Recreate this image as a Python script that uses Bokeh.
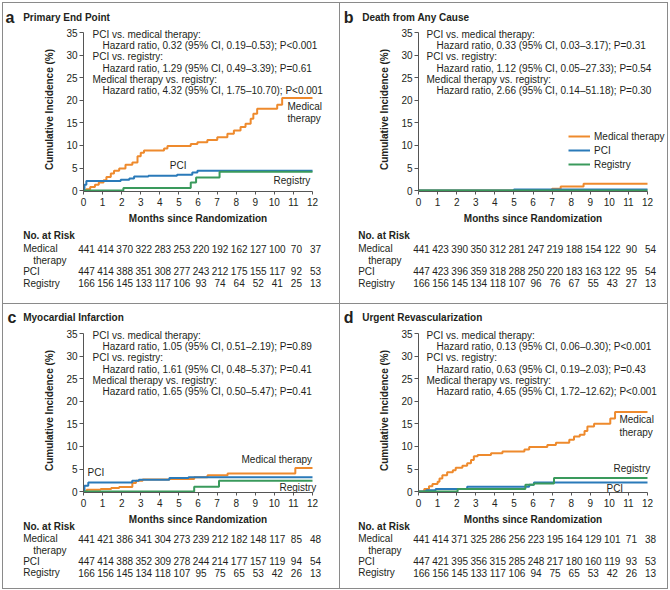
from bokeh.plotting import figure
from bokeh.models import Range1d, FixedTicker, Label
from bokeh.layouts import row, column
from bokeh.core.properties import value
from bokeh.embed import file_html
from bokeh.resources import INLINE

FONT = "Liberation Sans"
TXT = "#231F20"
AXC = "#555555"
C_MED = "#EE8A2D"
C_PCI = "#2A7AB9"
C_REG = "#3A9A5C"

MONTHS = list(range(13))
Y_TICKS = [0, 5, 10, 15, 20, 25, 30, 35]
GROUPS = ["Medical therapy", "PCI", "Registry"]

# ---------------- Panel a: Primary End Point ----------------
a_med_t = [0, 0.15, 0.35, 0.6, 0.8, 1.05, 1.2, 1.43, 1.6, 1.87, 2.2, 2.56, 2.83, 3.0, 3.17, 4.22, 4.4,
           5.62, 5.97, 6.49, 7.01, 7.54, 7.88, 8.23, 8.49, 8.76, 8.9, 9.1, 10.15, 10.41, 12]
a_med_y = [0, 0.3, 0.8, 1.3, 1.8, 2.3, 3.0, 3.8, 4.4, 4.9, 5.7, 6.2, 7.6, 8.4, 8.9, 9.3, 9.9,
           10.3, 10.7, 11.2, 11.8, 12.6, 13.3, 14.1, 14.8, 15.9, 17.0, 18.1, 19.0, 20.5, 20.5]
a_pci_t = [0, 0.05, 0.15, 1.95, 2.4, 2.65, 3.4, 4.9, 5.7, 5.97, 12]
a_pci_y = [0, 1.3, 2.1, 2.4, 2.7, 3.1, 3.3, 3.5, 4.0, 4.4, 4.4]
a_reg_t = [0, 2.09, 5.62, 5.9, 7.13, 12]
a_reg_y = [0, 0.6, 1.8, 2.9, 4.2, 4.2]
a_risk_med = [441, 414, 370, 322, 283, 253, 220, 192, 162, 127, 100, 70, 37]
a_risk_pci = [447, 414, 388, 351, 308, 277, 243, 212, 175, 155, 117, 92, 53]
a_risk_reg = [166, 156, 145, 133, 117, 106, 93, 74, 64, 52, 41, 25, 13]
a_hr = ["PCI  vs. medical therapy:", "Hazard ratio, 0.32 (95% CI, 0.19\u20130.53); P<0.001",
        "PCI  vs. registry:", "Hazard ratio, 1.29 (95% CI, 0.49\u20133.39); P=0.61",
        "Medical therapy vs. registry:", "Hazard ratio, 4.32 (95% CI, 1.75\u201310.70); P<0.001"]

# ---------------- Panel b: Death from Any Cause ----------------
b_med_t = [0, 7.0, 7.45, 8.65, 12]
b_med_y = [0, 0.4, 0.9, 1.5, 1.5]
b_pci_t = [0, 5.0, 12]
b_pci_y = [0, 0.25, 0.25]
b_reg_t = [0, 12]
b_reg_y = [0, 0]
b_risk_med = [441, 423, 390, 350, 312, 281, 247, 219, 188, 154, 122, 90, 54]
b_risk_pci = [447, 423, 396, 359, 318, 288, 250, 220, 183, 163, 122, 95, 54]
b_risk_reg = [166, 156, 145, 134, 118, 107, 96, 76, 67, 55, 43, 27, 13]
b_hr = ["PCI  vs. medical therapy:", "Hazard ratio, 0.33 (95% CI, 0.03\u20133.17); P=0.31",
        "PCI  vs. registry:", "Hazard ratio, 1.12 (95% CI, 0.05\u201327.33); P=0.54",
        "Medical therapy vs. registry:", "Hazard ratio, 2.66 (95% CI, 0.14\u201351.18); P=0.30"]

# ---------------- Panel c: Myocardial Infarction ----------------
c_med_t = [0, 0.17, 0.9, 1.45, 1.87, 2.56, 2.75, 3.1, 4.5, 5.8, 6.5, 7.55, 11.1, 12]
c_med_y = [0, 0.4, 0.6, 0.8, 1.0, 1.9, 2.4, 2.7, 2.8, 3.2, 3.6, 4.0, 5.2, 5.2]
c_pci_t = [0, 0.05, 0.25, 2.55, 2.9, 4.5, 5.5, 12]
c_pci_y = [0, 1.3, 2.0, 2.4, 2.6, 3.0, 3.2, 3.2]
c_reg_t = [0, 5.8, 7.1, 12]
c_reg_y = [0, 1.1, 2.4, 2.4]
c_risk_med = [441, 421, 386, 341, 304, 273, 239, 212, 182, 148, 117, 85, 48]
c_risk_pci = [447, 414, 388, 352, 309, 278, 244, 214, 177, 157, 119, 94, 54]
c_risk_reg = [166, 156, 145, 134, 118, 107, 95, 75, 65, 53, 42, 26, 13]
c_hr = ["PCI  vs. medical therapy:", "Hazard ratio, 1.05 (95% CI, 0.51\u20132.19); P=0.89",
        "PCI  vs. registry:", "Hazard ratio, 1.61 (95% CI, 0.48\u20135.37); P=0.41",
        "Medical therapy vs. registry:", "Hazard ratio, 1.65 (95% CI, 0.50\u20135.47); P=0.41"]

# ---------------- Panel d: Urgent Revascularization ----------------
d_med_t = [0, 0.3, 0.55, 0.73, 1.0, 1.1, 1.25, 1.5, 1.8, 1.95, 2.3, 2.55, 2.75, 2.9, 3.1, 3.8, 4.4,
           5.55, 5.8, 6.75, 7.2, 7.9, 8.15, 8.45, 8.7, 8.85, 9.2, 10.05, 10.3, 12]
d_med_y = [0, 0.6, 1.2, 1.7, 2.2, 2.9, 3.6, 4.3, 4.7, 5.3, 5.7, 6.3, 7.0, 7.8, 8.1, 8.5, 8.9,
           9.3, 9.9, 10.3, 10.8, 11.5, 12.2, 12.6, 13.4, 14.4, 15.0, 16.2, 17.6, 17.6]
d_pci_t = [0, 0.4, 0.9, 2.55, 5.8, 6.05, 12]
d_pci_y = [0, 0.3, 0.6, 1.1, 1.5, 2.0, 2.0]
d_reg_t = [0, 2.05, 5.6, 6.05, 7.1, 12]
d_reg_y = [0, 0.6, 1.5, 1.8, 3.0, 3.0]
d_risk_med = [441, 414, 371, 325, 286, 256, 223, 195, 164, 129, 101, 71, 38]
d_risk_pci = [447, 421, 395, 356, 315, 285, 248, 217, 180, 160, 119, 93, 53]
d_risk_reg = [166, 156, 145, 133, 117, 106, 94, 75, 65, 53, 42, 26, 13]
d_hr = ["PCI  vs. medical therapy:", "Hazard ratio, 0.13 (95% CI, 0.06\u20130.30); P<0.001",
        "PCI  vs. registry:", "Hazard ratio, 0.63 (95% CI, 0.19\u20132.03); P=0.43",
        "Medical therapy vs. registry:", "Hazard ratio, 4.65 (95% CI, 1.72\u201312.62); P<0.001"]

# ---------------- geometry (pixels) ----------------
FRAME_W = 229                # width of 0..12 months
PPM = FRAME_W / 12.0         # pixels per month
Y0, Y1 = -0.2, 35.0
PPU = 159 / (Y1 - Y0)        # pixels per percent
HEAD_H = 24                  # header strip height
MAIN_FRAME_H = 164           # frame from 5 px above 35 down to the x axis
MAIN_BOTTOM = 20             # tick labels
Y_TOP = Y0 + MAIN_FRAME_H / PPU


def blank_fig(width, height, x_range, y_range):
    p = figure(width=width, height=height, x_range=x_range, y_range=y_range,
               output_backend="svg", toolbar_location=None, tools="", title=None,
               x_axis_type=None, y_axis_type=None, frame_align=False,
               min_border_left=0, min_border_right=0, min_border_top=0, min_border_bottom=0)
    p.outline_line_color = None
    p.grid.visible = False
    return p


def txt(p, xs, ys, texts, size="10px", bold=False, align="left", baseline="middle", x_offset=0):
    p.text(x=xs, y=ys, text=texts, text_font=value(FONT), text_font_size=size,
           text_font_style="bold" if bold else "normal", text_color=TXT,
           text_align=align, text_baseline=baseline, x_offset=x_offset)


def label(p, x, y, text, xu="screen", yu="screen", align="left"):
    p.add_layout(Label(x=x, y=y, x_units=xu, y_units=yu, text=text,
                       text_font=FONT, text_font_size="10px", text_color=TXT,
                       text_align=align, text_baseline="middle"))


def build(width, height, left, letter, letter_x, title, title_x, head_base, hr, hr_x,
          curves, risk, risk_rows, curve_labels, legend=False):
    # ---- header strip: panel letter and title
    head = blank_fig(width, HEAD_H, Range1d(0, width), Range1d(HEAD_H, 0))
    txt(head, [letter_x], [head_base], [letter], size="16px", bold=True, baseline="alphabetic")
    txt(head, [title_x], [head_base], [title], bold=True, baseline="alphabetic")

    # ---- main plot
    main_w = width - left
    p = figure(width=width, height=MAIN_FRAME_H + MAIN_BOTTOM,
               x_range=Range1d(0, main_w / PPM), y_range=Range1d(Y0, Y_TOP),
               output_backend="svg", toolbar_location=None, tools="", title=None,
               frame_align=False,
               min_border_left=left, min_border_right=0, min_border_top=0,
               min_border_bottom=MAIN_BOTTOM)
    p.outline_line_color = None
    p.xgrid.grid_line_color = None
    p.ygrid.grid_line_color = None
    p.xaxis.ticker = FixedTicker(ticks=MONTHS)
    p.yaxis.ticker = FixedTicker(ticks=Y_TICKS)
    p.xaxis.bounds = (0, 12)
    p.yaxis.bounds = (Y0, Y1)
    for ax in p.axis:
        ax.axis_line_color = AXC
        ax.major_tick_line_color = AXC
        ax.minor_tick_line_color = None
        ax.major_tick_in = 0
        ax.major_label_text_font = FONT
        ax.major_label_text_font_size = "10px"
        ax.major_label_text_color = TXT
        ax.axis_label_text_font = FONT
        ax.axis_label_text_font_size = "10px"
        ax.axis_label_text_font_style = "bold"
        ax.axis_label_text_color = TXT
    p.xaxis.major_tick_out = 3
    p.yaxis.major_tick_out = 4
    p.xaxis.major_label_standoff = 3
    p.yaxis.major_label_standoff = 2
    p.yaxis.axis_label = "Cumulative Incidence (%)"
    p.yaxis.axis_label_standoff = 8

    for (t, y, col), name in zip(curves, GROUPS):
        kw = {"legend_label": name} if legend else {}
        p.step(x=t, y=y, mode="after", line_color=col, line_width=2, **kw)

    if legend:
        lg = p.legend[0]
        lg.location = (150, 21)
        lg.border_line_color = None
        lg.background_fill_alpha = 0
        lg.padding = 0
        lg.margin = 0
        lg.spacing = 2
        lg.glyph_width = 22
        lg.glyph_height = 12
        lg.label_height = 12
        lg.label_standoff = 4
        lg.label_text_font = FONT
        lg.label_text_font_size = "10px"
        lg.label_text_color = TXT

    # hazard ratio text (screen px from frame bottom-left)
    y_first = (Y1 - Y0) * PPU - 2
    for i, line in enumerate(hr):
        label(p, hr_x + (10 if i % 2 else 0), y_first - 11.2 * i, line)

    for (x, y, s, al) in curve_labels:
        label(p, x, y, s, xu="data", yu="data", align=al)

    # ---- x-axis title and number-at-risk table
    rh = height - HEAD_H - MAIN_FRAME_H - MAIN_BOTTOM
    rk = blank_fig(width, rh, Range1d(-left / PPM, (width - left) / PPM), Range1d(rh, 0))
    y_title, y_head, y_med, y_ther, y_pci, y_reg = risk_rows
    lx = -60.3 / PPM
    txt(rk, [6], [y_title], ["Months since Randomization"], bold=True, align="center")
    txt(rk, [lx], [y_head], ["No. at Risk"], bold=True)
    txt(rk, [lx, lx + 10 / PPM, lx, lx], [y_med, y_ther, y_pci, y_reg],
        ["Medical", "therapy", "PCI", "Registry"])
    for vals, yy in zip(risk, (y_med, y_pci, y_reg)):
        txt(rk, MONTHS, [yy] * len(MONTHS), [str(v) for v in vals], align="center", x_offset=3)

    return column(head, p, rk, spacing=0, styles={"background-color": "white"})


TOP_ROWS = (7.3, 24, 37.3, 49, 59.7, 71.7)
BOT_ROWS = (7, 14, 26.3, 38, 48.7, 60.3)

pa = build(336, 300, 80, "a", 2, "Primary End Point", 19.7, 14, a_hr, 9,
           [(a_med_t, a_med_y, C_MED), (a_pci_t, a_pci_y, C_PCI), (a_reg_t, a_reg_y, C_REG)],
           [a_risk_med, a_risk_pci, a_risk_reg], TOP_ROWS,
           [(10.69, 18.6, "Medical", "left"), (10.69, 16.07, "therapy", "left"),
            (4.96, 5.56, "PCI", "center"), (9.96, 2.24, "Registry", "left")])

pb = build(327, 300, 78, "b", 3.3, "Death from Any Cause", 21.7, 14, b_hr, 8,
           [(b_med_t, b_med_y, C_MED), (b_pci_t, b_pci_y, C_PCI), (b_reg_t, b_reg_y, C_REG)],
           [b_risk_med, b_risk_pci, b_risk_reg], TOP_ROWS, [], legend=True)

pc = build(336, 284, 80, "c", 4, "Myocardial Infarction", 19.7, 13.3, c_hr, 9,
           [(c_med_t, c_med_y, C_MED), (c_pci_t, c_pci_y, C_PCI), (c_reg_t, c_reg_y, C_REG)],
           [c_risk_med, c_risk_pci, c_risk_reg], BOT_ROWS,
           [(8.28, 7.11, "Medical therapy", "left"), (0.21, 4.23, "PCI", "left"),
            (10.27, 0.91, "Registry", "left")])

pd_ = build(327, 284, 78, "d", 3.3, "Urgent Revascularization", 21.7, 13.3, d_hr, 8,
            [(d_med_t, d_med_y, C_MED), (d_pci_t, d_pci_y, C_PCI), (d_reg_t, d_reg_y, C_REG)],
            [d_risk_med, d_risk_pci, d_risk_reg], BOT_ROWS,
            [(10.53, 15.96, "Medical", "left"), (10.53, 13.08, "therapy", "left"),
             (10.22, 5.11, "Registry", "left"), (9.85, 0.69, "PCI", "left")])

layout = column(row(pa, pb, spacing=1), row(pc, pd_, spacing=1), spacing=1,
                margin=(2, 0, 0, 2),
                styles={"background-color": "#8a8a8a", "padding": "1px"})

open("out.html", "w").write(file_html(layout, INLINE))
